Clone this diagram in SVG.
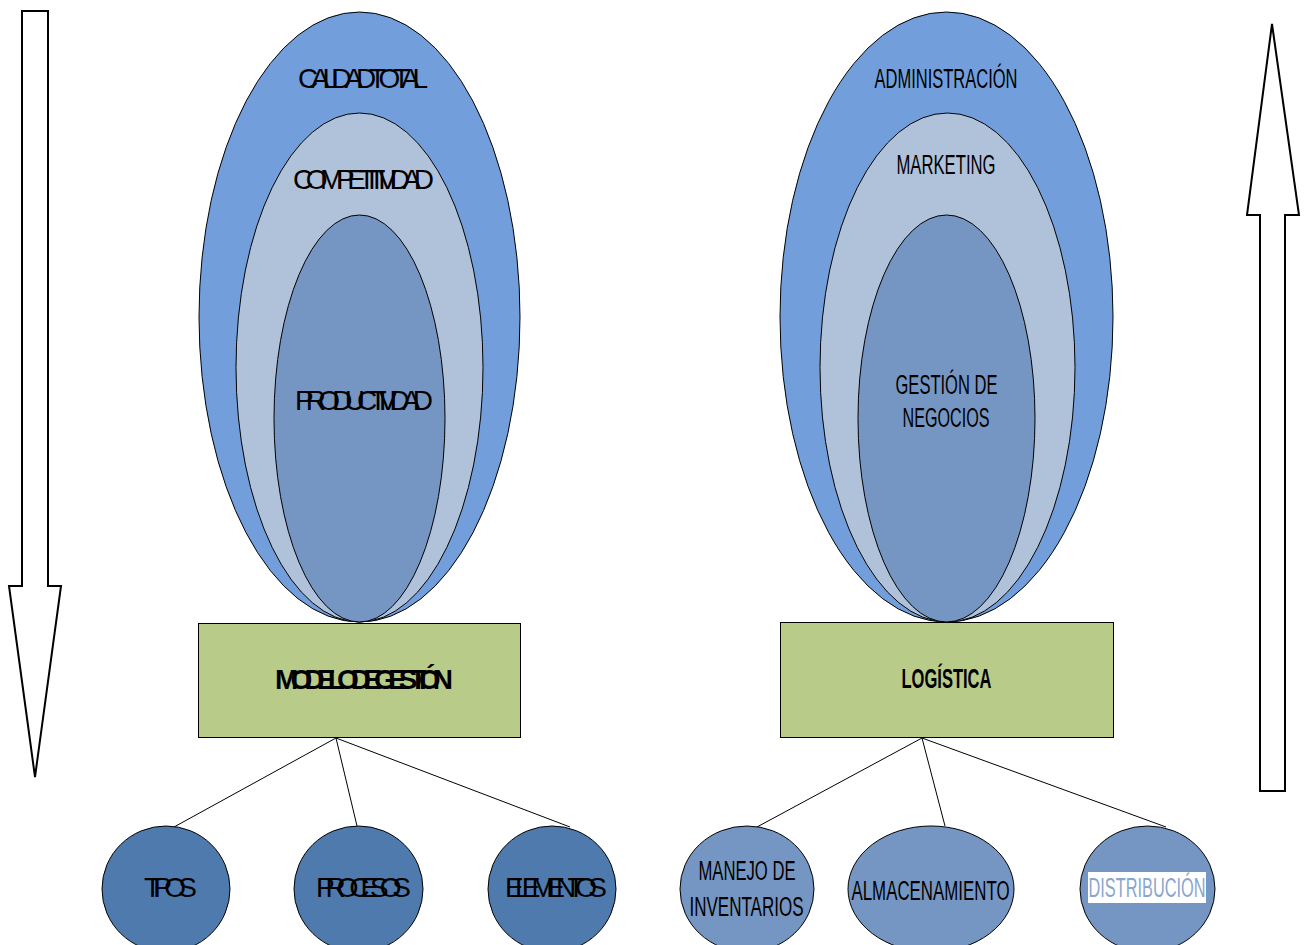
<svg xmlns="http://www.w3.org/2000/svg" width="1306" height="945" viewBox="0 0 1306 945">
  <style>
    .outer { fill: #729fdc; stroke: #000; stroke-width: 1; }
    .mid { fill: #b0c2da; stroke: #000; stroke-width: 1; }
    .inner { fill: #7596c2; stroke: #000; stroke-width: 1; }
    .box { fill: #b8cb88; stroke: #000; stroke-width: 1; }
    .dark { fill: #4f7aae; stroke: #000; stroke-width: 1; }
    .light { fill: #7596c2; stroke: #000; stroke-width: 1; }
    .arrow { fill: #fff; stroke: #000; stroke-width: 2; }
    .conn line { stroke: #000; stroke-width: 1; }
    text { font-family: "Liberation Sans", Arial, sans-serif; fill: #000; text-anchor: middle; }
    .sq { font-size: 28px; }
    .nr { font-size: 27px; }
    .b { font-weight: bold; }
  </style>

  <!-- side arrows -->
  <g id="arrow-down">
    <polygon class="arrow" points="22,11 48,11 48,586 61,586 35,777 9,586 22,586"/>
  </g>
  <g id="arrow-up">
    <polygon class="arrow" points="1260,791 1285,791 1285,215 1299,215 1272,24 1247,215 1260,215"/>
  </g>

  <!-- left stack -->
  <g id="calidad-total">
    <ellipse class="outer" cx="359.5" cy="317" rx="160.5" ry="305"/>
    <text class="sq" x="363" y="88" textLength="130" lengthAdjust="spacing">CALIDAD TOTAL</text>
  </g>
  <g id="competitividad">
    <ellipse class="mid" cx="359.5" cy="367.5" rx="123.5" ry="254.5"/>
    <text class="sq" x="363.5" y="189" textLength="141" lengthAdjust="spacing">COMPETITIVIDAD</text>
  </g>
  <g id="productividad">
    <ellipse class="inner" cx="359.5" cy="418.5" rx="85.5" ry="203.5"/>
    <text class="sq" x="364" y="410" textLength="138" lengthAdjust="spacing">PRODUCTIVIDAD</text>
  </g>
  <g id="modelo-de-gestion">
    <rect class="box" x="198.5" y="623.5" width="322" height="114"/>
    <text class="sq b" x="364" y="689" textLength="178" lengthAdjust="spacing">MODELO DE GESTIÓN</text>
  </g>

  <!-- right stack -->
  <g id="administracion">
    <ellipse class="outer" cx="946.5" cy="317" rx="166.5" ry="305"/>
    <text class="nr" x="946" y="88" textLength="143" lengthAdjust="spacingAndGlyphs">ADMINISTRACIÓN</text>
  </g>
  <g id="marketing">
    <ellipse class="mid" cx="947.5" cy="367.5" rx="127.5" ry="254.5"/>
    <text class="nr" x="946" y="174" textLength="99" lengthAdjust="spacingAndGlyphs">MARKETING</text>
  </g>
  <g id="gestion-de-negocios">
    <ellipse class="inner" cx="946.5" cy="418.5" rx="88.5" ry="203.5"/>
    <text class="nr" x="946.5" y="394" textLength="102" lengthAdjust="spacingAndGlyphs">GESTIÓN DE</text>
    <text class="nr" x="946" y="427" textLength="87" lengthAdjust="spacingAndGlyphs">NEGOCIOS</text>
  </g>
  <g id="logistica">
    <rect class="box" x="780.5" y="622.5" width="333" height="115"/>
    <text class="nr b" x="946.5" y="688" textLength="90" lengthAdjust="spacingAndGlyphs">LOGÍSTICA</text>
  </g>

  <!-- connectors -->
  <g id="connectors" class="conn">
    <line x1="336" y1="738" x2="174" y2="827"/>
    <line x1="336" y1="738" x2="357" y2="826"/>
    <line x1="336" y1="738" x2="570" y2="827"/>
    <line x1="922" y1="738" x2="757" y2="827"/>
    <line x1="922" y1="738" x2="945" y2="826"/>
    <line x1="922" y1="738" x2="1166" y2="827"/>
  </g>

  <!-- left leaves -->
  <g id="tipos">
    <ellipse class="dark" cx="166" cy="889" rx="64" ry="63"/>
    <text class="sq" x="170.5" y="897" textLength="53" lengthAdjust="spacing">TIPOS</text>
  </g>
  <g id="procesos">
    <ellipse class="dark" cx="358.5" cy="889" rx="64.5" ry="63"/>
    <text class="sq" x="363.5" y="897" textLength="95" lengthAdjust="spacing">PROCESOS</text>
  </g>
  <g id="elementos">
    <ellipse class="dark" cx="552" cy="889" rx="64" ry="63"/>
    <text class="sq" x="556" y="897" textLength="102" lengthAdjust="spacing">ELEMENTOS</text>
  </g>

  <!-- right leaves -->
  <g id="manejo-de-inventarios">
    <ellipse class="light" cx="747" cy="889" rx="67" ry="63"/>
    <text class="nr" x="747" y="880" textLength="97" lengthAdjust="spacingAndGlyphs">MANEJO DE</text>
    <text class="nr" x="746.5" y="916" textLength="114" lengthAdjust="spacingAndGlyphs">INVENTARIOS</text>
  </g>
  <g id="almacenamiento">
    <ellipse class="light" cx="931" cy="889" rx="83" ry="63"/>
    <text class="nr" x="930.5" y="900" textLength="158" lengthAdjust="spacingAndGlyphs">ALMACENAMIENTO</text>
  </g>
  <g id="distribucion">
    <ellipse class="light" cx="1147.5" cy="889" rx="67.5" ry="63"/>
    <rect x="1088" y="872" width="118" height="31" fill="#fff"/>
    <text class="nr" x="1147" y="897" textLength="117" lengthAdjust="spacingAndGlyphs" style="fill:#8aa6cf">DISTRIBUCIÓN</text>
  </g>
</svg>
